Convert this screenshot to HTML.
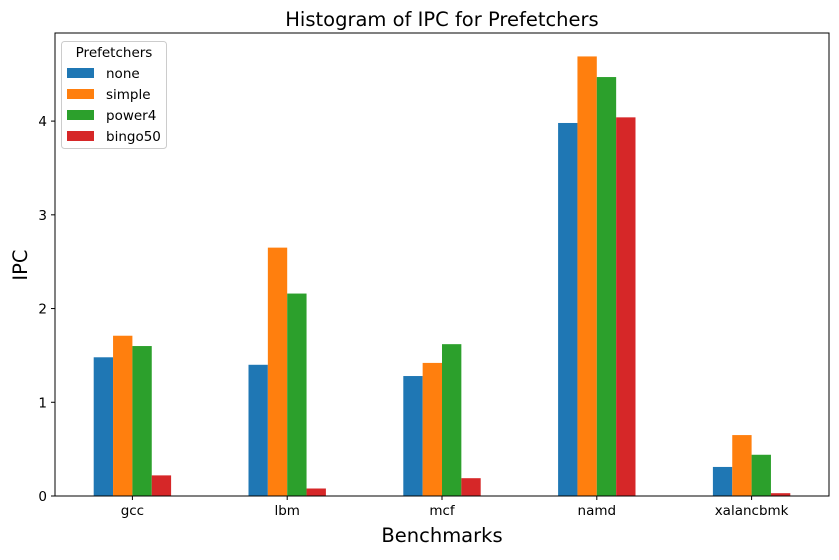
<!DOCTYPE html>
<html><head><meta charset="utf-8"><style>
body{margin:0;background:#fff;font-family:"Liberation Sans","DejaVu Sans",sans-serif}
svg text{font-family:"DejaVu Sans","Liberation Sans",sans-serif}
</style></head><body>
<svg id="c" width="839" height="555" xmlns="http://www.w3.org/2000/svg">
<text x="442" y="26" font-size="19.5" text-anchor="middle">Histogram of IPC for Prefetchers</text>
<text x="442" y="542" font-size="19.5" text-anchor="middle">Benchmarks</text>
<text x="27" y="265" font-size="19.5" text-anchor="middle" transform="rotate(-90 27 265)">IPC</text>
<g id="bars"></g><g id="ticks"></g>
<rect x="55" y="33" width="774" height="463" fill="none" stroke="#000" stroke-width="1"/>
<g>
<rect x="61.5" y="41.5" width="105" height="107" rx="3" fill="#fff" fill-opacity="0.8" stroke="#ccc"/>
<text x="114" y="57" font-size="13.5" text-anchor="middle">Prefetchers</text>
<g id="leg"></g>
</g>
</svg>
<script>
const categories=["gcc","lbm","mcf","namd","xalancbmk"];
const seriesNames=["none","simple","power4","bingo50"];
const none=[1.48,1.40,1.28,3.98,0.31];
const simple=[1.71,2.65,1.42,4.69,0.65];
const power4=[1.60,2.16,1.62,4.47,0.44];
const bingo50=[0.22,0.08,0.19,4.04,0.03];
const yTicks=[0,1,2,3,4];
const colors=["#1f77b4","#ff7f0e","#2ca02c","#d62728"];
const series=[none,simple,power4,bingo50];
const L=55,R=829,T=33,B=496,yMax=4.94;
const xs=i=>L+(i+0.5)*(R-L)/categories.length;
const ys=v=>B-v*(B-T)/yMax;
const unit=(R-L)/categories.length, bw=unit*0.125;
const NS="http://www.w3.org/2000/svg";
const bars=document.getElementById('bars'),ticks=document.getElementById('ticks'),leg=document.getElementById('leg');
function mk(t,a,p){const e=document.createElementNS(NS,t);for(const k in a)e.setAttribute(k,a[k]);p.appendChild(e);return e;}
series.forEach((s,si)=>s.forEach((v,i)=>{
 const x=xs(i)-2*bw+si*bw;
 const r=mk('rect',{x:x,y:ys(v),width:bw,height:B-ys(v),fill:colors[si]},bars);
 
 
}));
categories.forEach((c,i)=>{
 mk('line',{x1:xs(i),x2:xs(i),y1:B,y2:B+4,stroke:'#000'},ticks);
 const t=mk('text',{x:xs(i),y:B+19,'font-size':13.5,'text-anchor':'middle'},ticks);t.textContent=c;
 
 
});
yTicks.forEach(v=>{
 mk('line',{x1:L-4,x2:L,y1:ys(v),y2:ys(v),stroke:'#000'},ticks);
 const t=mk('text',{x:L-8,y:ys(v)+5,'font-size':13.5,'text-anchor':'end'},ticks);t.textContent=v;
 
 
});
seriesNames.forEach((n,i)=>{
 const y=73+i*21;
 mk('rect',{x:67,y:y-5,width:27,height:10,fill:colors[i]},leg);
 const t=mk('text',{x:106,y:y+5,'font-size':13.5},leg);t.textContent=n;
 
 
});
</script>
</body></html>
